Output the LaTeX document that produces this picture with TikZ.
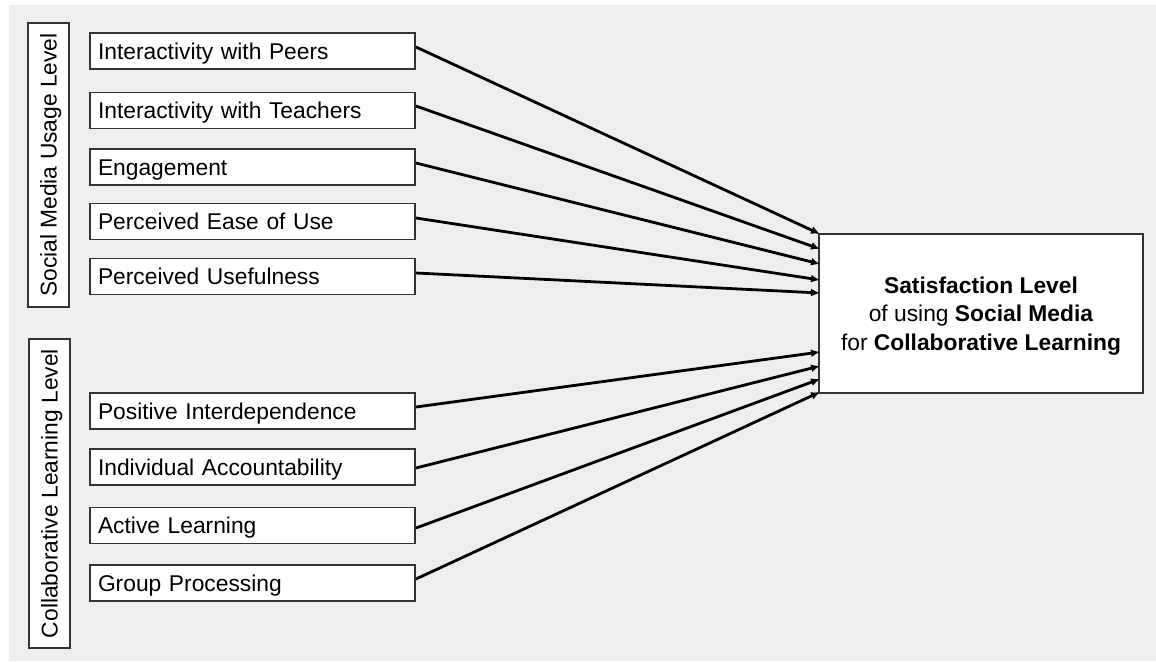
\documentclass[tikz,border=0pt]{standalone}
\usepackage{fontspec}
\setmainfont{Liberation Sans}
\usetikzlibrary{arrows.meta}
\definecolor{panel}{HTML}{EEEEEE}
\definecolor{edge}{HTML}{333333}
\begin{document}
\begin{tikzpicture}[x=1pt,y=-1pt,
  every node/.style={font=\fontsize{22.8}{28.5}\selectfont, text=black},
  factor/.style={draw=edge, line width=1.9pt, fill=white,
    minimum width=325pt, minimum height=36pt, text width=309pt,
    inner xsep=8pt, inner ysep=0pt, align=left,
    text height=16.4pt, text depth=0pt},
  level/.style={draw=edge, line width=1.9pt, fill=white, rotate=90,
    minimum height=41pt, inner sep=0pt,
    text height=16.4pt, text depth=0pt},
  outcome/.style={draw=edge, line width=1.9pt, fill=white,
    minimum width=324pt, minimum height=159pt},
  arr/.style={-{Latex[length=9pt,width=8pt]}, line width=2.8pt, black}]

\useasboundingbox (0,0) rectangle (1156,661);
\fill[panel] (9,5) rectangle (1156,661);

% group labels
\node[level, minimum width=284pt] (g1) at (48.5,165) {Social Media Usage Level};
\node[level, minimum width=309pt] (g2) at (49.5,493.5) {Collaborative Learning Level};

% factors
\node[factor] (p1) at (252.5,51)    {Interactivity with Peers};
\node[factor] (p2) at (252.5,110.5) {Interactivity with Teachers};
\node[factor] (p3) at (252.5,167)   {Engagement};
\node[factor] (p4) at (252.5,221.5) {Perceived Ease of Use};
\node[factor] (p5) at (252.5,276.5) {Perceived Usefulness};
\node[factor] (p6) at (252.5,411)   {Positive Interdependence};
\node[factor] (p7) at (252.5,467)   {Individual Accountability};
\node[factor] (p8) at (252.5,525.5) {Active Learning};
\node[factor] (p9) at (252.5,583)   {Group Processing};

% outcome box and its caption
\node[outcome] (sat) at (981,313.5) {};
\node[align=center] (satText) at ([yshift=-2.5pt]sat.center)
  {\textbf{Satisfaction Level}\\
   of using \textbf{Social Media}\\
   for \textbf{Collaborative Learning}};

% arrow targets on the outcome box
\coordinate (t1) at (820,234);
\coordinate (t2) at (820,249);
\coordinate (t3) at (820,264);
\coordinate (t4) at (820,280);
\coordinate (t5) at (820,293);
\coordinate (t6) at (820,352);
\coordinate (t7) at (820,366);
\coordinate (t8) at (820,379);
\coordinate (t9) at (820,392);

\draw[arr] ([yshift=4pt]p1.east)   -- (t1);
\draw[arr] ([yshift=4.5pt]p2.east) -- (t2);
\draw[arr] ([yshift=4pt]p3.east)   -- (t3);
\draw[arr] ([yshift=3.5pt]p4.east) -- (t4);
\draw[arr] ([yshift=3.5pt]p5.east) -- (t5);
\draw[arr] ([yshift=4pt]p6.east)   -- (t6);
\draw[arr] ([yshift=-1pt]p7.east)  -- (t7);
\draw[arr] ([yshift=-2.5pt]p8.east) -- (t8);
\draw[arr] ([yshift=4pt]p9.east)   -- (t9);
\end{tikzpicture}
\end{document}
